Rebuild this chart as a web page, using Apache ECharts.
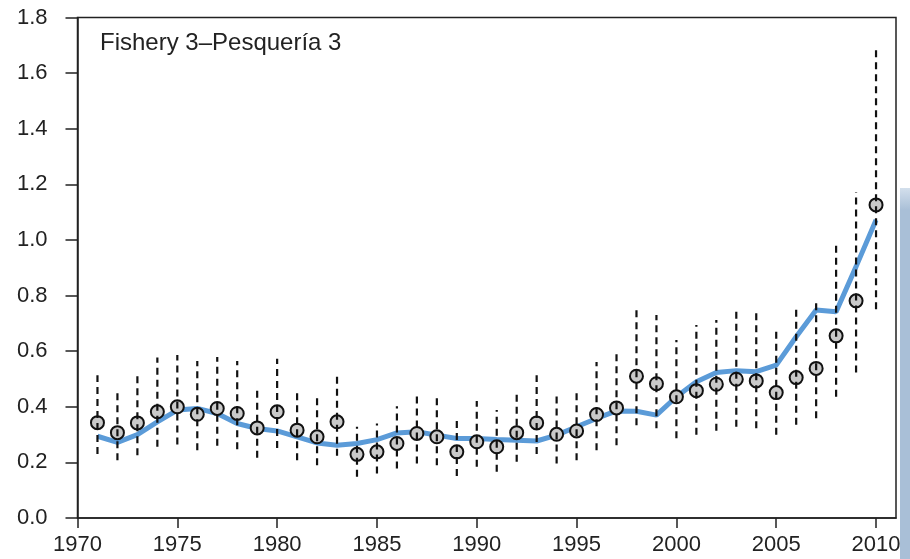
<!DOCTYPE html>
<html>
<head>
<meta charset="utf-8">
<title>Fishery 3</title>
<script src="https://cdn.jsdelivr.net/npm/echarts@6/dist/echarts.min.js"></script>
<style>
	html, body { margin: 0; padding: 0; background: #fff; }
	#chart { width: 910px; height: 559px; }
</style>
</head>
<body>
<div id="chart"></div>
<script>
var years = [1971,1972,1973,1974,1975,1976,1977,1978,1979,1980,
	1981,1982,1983,1984,1985,1986,1987,1988,1989,1990,
	1991,1992,1993,1994,1995,1996,1997,1998,1999,2000,
	2001,2002,2003,2004,2005,2006,2007,2008,2009,2010];

// observed index (circles)
var observed = [0.343,0.307,0.342,0.382,0.400,0.373,0.394,0.376,0.324,0.382,
	0.316,0.292,0.346,0.229,0.238,0.268,0.304,0.292,0.238,0.274,
	0.256,0.307,0.342,0.301,0.313,0.372,0.396,0.510,0.483,0.436,
	0.458,0.481,0.499,0.493,0.451,0.505,0.538,0.655,0.781,1.126];

// dashed interval ends
var upper = [0.513,0.459,0.519,0.577,0.586,0.565,0.579,0.565,0.466,0.573,
	0.459,0.435,0.519,0.328,0.340,0.402,0.448,0.441,0.364,0.421,
	0.388,0.456,0.513,0.448,0.462,0.561,0.597,0.765,0.730,0.640,
	0.694,0.712,0.751,0.736,0.676,0.764,0.787,0.985,1.172,1.686];
var lower = [0.230,0.208,0.226,0.256,0.264,0.244,0.260,0.247,0.217,0.252,
	0.208,0.190,0.224,0.148,0.160,0.178,0.196,0.190,0.151,0.184,
	0.166,0.202,0.230,0.196,0.208,0.244,0.262,0.334,0.323,0.287,
	0.299,0.314,0.328,0.323,0.299,0.335,0.359,0.436,0.523,0.751];

// model fit (blue line)
var fitted = [0.294,0.272,0.300,0.346,0.388,0.394,0.376,0.340,0.322,0.313,
	0.292,0.270,0.262,0.268,0.282,0.306,0.310,0.298,0.286,0.286,
	0.282,0.280,0.277,0.298,0.328,0.358,0.385,0.384,0.370,0.436,
	0.490,0.523,0.530,0.526,0.550,0.652,0.748,0.742,0.904,1.072];

var xTicks = [1970,1975,1980,1985,1990,1995,2000,2005,2010];
var yTicks = [0,0.2,0.4,0.6,0.8,1.0,1.2,1.4,1.6,1.8];
var panelTitle = 'Fishery 3\u2013Pesquería 3';

var fitData = years.map(function (y, i) { return [y, fitted[i]]; });
var obsData = years.map(function (y, i) { return [y, observed[i]]; });
var barData = years.map(function (y, i) { return [y, lower[i], upper[i]]; });

var axisColor = '#222';
var font = 'Liberation Sans, Arial, sans-serif';

var option = {
	animation: false,
	backgroundColor: '#fff',
	title: {
		text: panelTitle,
		left: 95,
		top: 26,
		textStyle: { fontFamily: font, fontSize: 24, fontWeight: 'normal', color: '#222' }
	},
	grid: {
		left: 77.5, right: 14, top: 17.5, bottom: 41,
		show: true, borderColor: axisColor, borderWidth: 1.5, backgroundColor: '#fff'
	},
	xAxis: {
		type: 'value',
		min: 1970, max: 2011,
		axisLine: { show: true, onZero: false, lineStyle: { color: axisColor, width: 1.5 } },
		axisTick: { show: true, length: 10, customValues: xTicks, lineStyle: { color: axisColor, width: 1.5 } },
		axisLabel: {
			customValues: xTicks, margin: 16, fontFamily: font, fontSize: 22, color: '#222',
			formatter: function (v) { return String(v); }
		},
		splitLine: { show: false }
	},
	yAxis: {
		type: 'value',
		min: 0, max: 1.8, interval: 0.2,
		axisLine: { show: true, lineStyle: { color: axisColor, width: 1.5 } },
		axisTick: { show: true, length: 12, customValues: yTicks, lineStyle: { color: axisColor, width: 1.5 } },
		axisLabel: {
			customValues: yTicks, margin: 30, fontFamily: font, fontSize: 22, color: '#222',
			formatter: function (v) { return v.toFixed(1); }
		},
		splitLine: { show: false }
	},
	series: [
		{
			name: 'fit',
			type: 'line',
			data: fitData,
			symbol: 'none',
			z: 2,
			lineStyle: { color: '#5b9bd8', width: 5 }
		},
		{
			name: 'observed',
			type: 'scatter',
			data: obsData,
			symbol: 'circle',
			symbolSize: 13,
			z: 3,
			itemStyle: { color: '#c9c9c9', borderColor: '#111', borderWidth: 2, opacity: 1 }
		},
		{
			name: 'interval',
			type: 'custom',
			data: barData,
			z: 4,
			renderItem: function (params, api) {
				var lo = api.coord([api.value(0), api.value(1)]);
				var hi = api.coord([api.value(0), api.value(2)]);
				return {
					type: 'line',
					shape: { x1: lo[0], y1: lo[1], x2: hi[0], y2: hi[1] },
					style: { stroke: '#111', lineWidth: 2.2, lineDash: [7, 5] }
				};
			}
		}
	],
	graphic: [
		{
			type: 'rect',
			left: 900, top: 188,
			shape: { width: 10, height: 371 },
			style: {
				fill: {
					type: 'linear', x: 0, y: 0, x2: 0, y2: 1,
					colorStops: [{ offset: 0, color: '#d3dfec' }, { offset: 0.06, color: '#a9bfd7' }, { offset: 1, color: '#a9bfd7' }]
				}
			}
		}
	]
};

var myChart = echarts.init(document.getElementById('chart'));
myChart.setOption(option);
</script>
</body>
</html>
